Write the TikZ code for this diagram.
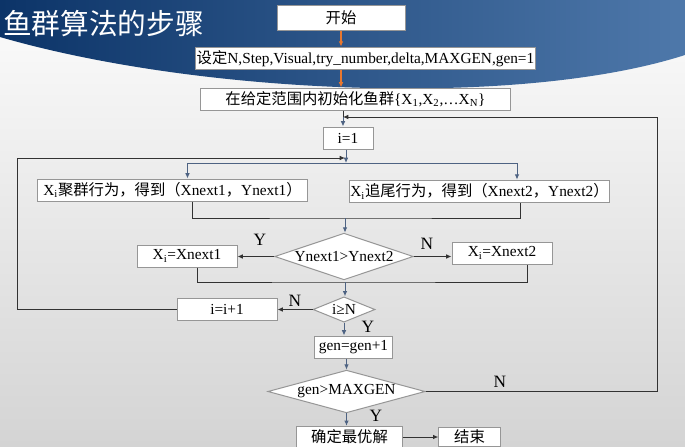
\documentclass[tikz,border=0pt]{standalone}
\usepackage{fontspec}
\setmainfont{Liberation Serif}
\newfontfamily\cjk{Noto Sans CJK SC}
\usepackage{tikz}
\usetikzlibrary{shapes.geometric, arrows.meta}
\usetikzlibrary{calc}

\definecolor{bgtop}{RGB}{252,252,252}
\definecolor{bgbot}{RGB}{212,212,212}
\definecolor{navyL}{RGB}{12,52,104}
\definecolor{navyR}{RGB}{78,120,170}
\definecolor{boxline}{RGB}{150,150,150}
\definecolor{linegray}{RGB}{50,50,50}
\definecolor{slate}{RGB}{78,99,131}
\definecolor{flame}{RGB}{232,119,46}

\begin{document}
\begin{tikzpicture}[x=0.75pt,y=0.75pt,yscale=-1,xscale=1,
  box/.style={draw=boxline, fill=white, line width=0.75pt, inner sep=0.75pt, font=\fontsize{11.5}{13}\selectfont},
  cond/.style={box, diamond, inner sep=0pt},
  link/.style={draw=linegray, line width=0.75pt},
  arr/.style={link, -{Latex[length=4pt,width=3.5pt]}},
  varr/.style={arr, draw=slate},
  oarr/.style={arr, draw=flame, line width=1.2pt},
  lab/.style={font=\fontsize{13}{15}\selectfont, inner sep=0.75pt}]
\useasboundingbox (0,0) rectangle (685,446);

%Shape: slide background
\shade[top color=bgtop, bottom color=bgbot] (0,0) rectangle (685,446);
%Shape: title banner
\shade[left color=navyL, right color=navyR] (0,0) -- (685,0) -- (685,55) .. controls (520,108) and (200,95) .. (0,37) -- cycle;

% Text Node
\node[anchor=west, text=white, font=\cjk\fontsize{21.5}{24}\selectfont, inner sep=0pt] (title) at (3,24) {鱼群算法的步骤};

%Boxes
\node[box, minimum width=96pt, minimum height=18.75pt] (start) at (341,17.5) {\cjk 开始};
\node[box, minimum height=17pt] (setup) at (365.5,58.5) {{\cjk 设定}N,Step,Visual,try\_number,delta,MAXGEN,gen=1};
\node[box, minimum width=232pt, minimum height=16.5pt] (init) at (355.5,99) {{\cjk 在给定范围内初始化鱼群}\{X\textsubscript{1},X\textsubscript{2},…X\textsubscript{N}\}};
\node[box, minimum width=37.5pt, minimum height=16.5pt] (ione) at (348,138) {i=1};
\node[box, minimum width=203pt, minimum height=16.5pt] (gather) at (172.5,190) {X\textsubscript{i}{\cjk 聚群行为，得到（}Xnext1{\cjk ，}Ynext1{\cjk ）}};
\node[box, minimum width=194pt, minimum height=17pt] (follow) at (479.5,191.5) {X\textsubscript{i}{\cjk 追尾行为，得到（}Xnext2{\cjk ，}Ynext2{\cjk ）}};
\node[cond, minimum width=104pt, minimum height=35pt, shape aspect=3] (cmp) at (344,256.5) {Ynext1>Ynext2};
\node[box, minimum width=75pt, minimum height=16.5pt] (xone) at (187,256) {X\textsubscript{i}=Xnext1};
\node[box, minimum width=75pt, minimum height=16.5pt] (xtwo) at (502,253) {X\textsubscript{i}=Xnext2};
\node[cond, minimum width=46.5pt, minimum height=19pt, shape aspect=2.5] (ign) at (344,309.5) {i≥N};
\node[box, minimum width=75pt, minimum height=16pt] (inc) at (227,309.5) {i=i+1};
\node[box, minimum width=58pt, minimum height=16.5pt] (genup) at (353.5,347) {gen=gen+1};
\node[cond, minimum width=118pt, minimum height=32pt, shape aspect=3.5] (gentest) at (346.5,391.5) {gen>MAXGEN};
\node[box, minimum width=79pt, minimum height=16pt] (best) at (349.5,437) {\cjk 确定最优解};
\node[box, minimum width=46pt, minimum height=14pt] (finish) at (469.5,437) {\cjk 结束};

%Junctions
\coordinate (jtop) at (343,117);
\coordinate (rtop) at (657,117);
\coordinate (jleft) at (345,158);
\coordinate (ltop) at (17,158);
\coordinate (split) at (346,163);
\coordinate (merge1) at (345,218);
\coordinate (merge2) at (345,282);

%Connectors
\draw[oarr] (start.south) -- (start.south |- setup.north);
\draw[oarr] (start.south |- setup.south) -- (start.south |- init.north);
\draw[link] (init.south -| jtop) -- (jtop);
\draw[varr] (jtop) -- (jtop |- ione.north);
\draw[arr] (gentest.east) -| (rtop) -- (jtop);
\draw[varr] (ione.south -| split) -- (split);
\draw[arr] (inc.west) -| (ltop) -- (jleft);
\draw[varr] (split) -| ($(gather.north)+(15,0)$);
\draw[varr] (split) -| ($(follow.north)+(37.5,0)$);
\draw[link] ($(gather.south)+(20,0)$) |- (merge1) -| ($(follow.south)+(41,0)$);
\draw[varr] (merge1) -- (merge1 |- cmp.north);
\draw[arr] (cmp.west) -- (cmp.west -| xone.east);
\draw[arr] (cmp.east) -- (cmp.east -| xtwo.west);
\draw[link] ($(xone.south)+(10,0)$) |- (merge2) -| ($(xtwo.south)+(25,0)$);
\draw[varr] (merge2) -- (merge2 |- ign.north);
\draw[arr] (ign.west) -- (ign.west -| inc.east);
\draw[varr] (ign.south) -- (ign.south |- genup.north);
\draw[varr] (gentest.north |- genup.south) -- (gentest.north);
\draw[varr] (gentest.south) -- (gentest.south |- best.north);
\draw[arr] (best.east) -- (finish.west);

% Text Node
\node[lab] (ycmp) at (260,240) {Y};
\node[lab] (ncmp) at (427,244) {N};
\node[lab] (nign) at (295,301) {N};
\node[lab] (yign) at (368,327) {Y};
\node[lab] (ngen) at (500,382) {N};
\node[lab] (ygen) at (376,416) {Y};

\end{tikzpicture}
\end{document}
